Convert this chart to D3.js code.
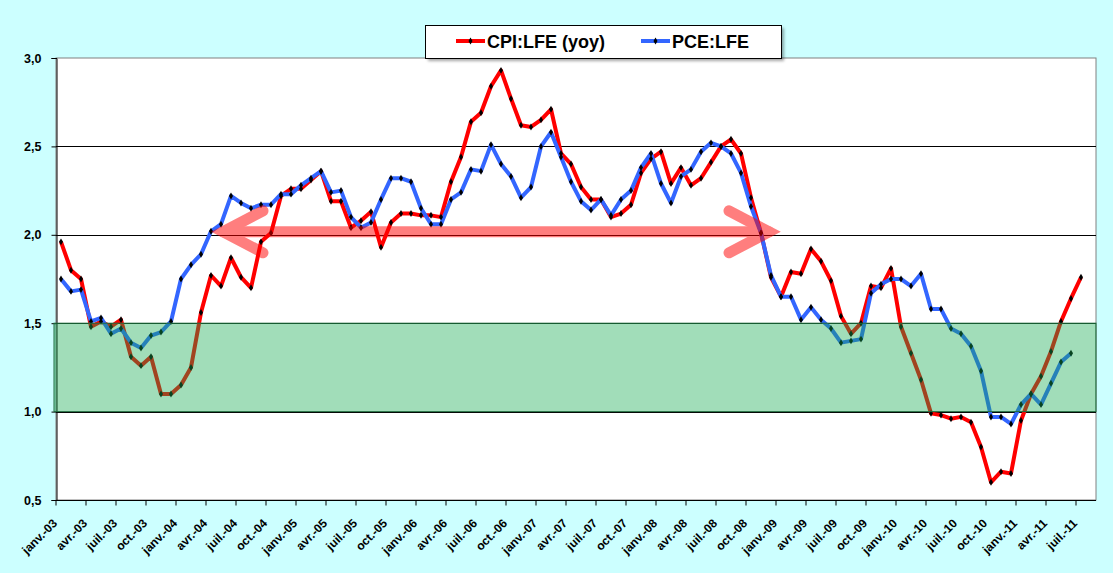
<!DOCTYPE html>
<html>
<head>
<meta charset="utf-8">
<script src="https://cdn.jsdelivr.net/npm/d3@7"></script>
<style>
  body { margin: 0; background: #CCFFFF; }
  svg { display: block; font-family: Arial, "Liberation Sans", sans-serif; }
</style>
</head>
<body>
<div id="chart"></div>
<script>
//french month abbreviations, the axis only shows every third one
var monthNames = ['janv.', 'févr.', 'mars', 'avr.', 'mai', 'juin', 'juil.', 'août', 'sept.', 'oct.', 'nov.', 'déc.'];
var years = ['03', '04', '05', '06', '07', '08', '09', '10', '11'];
var nMonths = 104; // janv.-03 .. août-11 (last slot stays empty)

//core CPI, year over year
var cpi = [
  1.96, 1.80, 1.75, 1.48, 1.51, 1.48, 1.52, 1.31, 1.26, 1.31, 1.10, 1.10,
  1.15, 1.25, 1.56, 1.77, 1.71, 1.87, 1.76, 1.70, 1.96, 2.01, 2.22, 2.26,
  2.26, 2.31, 2.36, 2.19, 2.19, 2.04, 2.08, 2.13, 1.93, 2.07, 2.12, 2.12,
  2.11, 2.11, 2.10, 2.30, 2.44, 2.64, 2.69, 2.84, 2.93, 2.77, 2.62, 2.61,
  2.65, 2.71, 2.46, 2.40, 2.27, 2.20, 2.20, 2.10, 2.12, 2.17, 2.35, 2.43,
  2.47, 2.29, 2.38, 2.28, 2.32, 2.41, 2.50, 2.54, 2.46, 2.21, 2.01, 1.76,
  1.65, 1.79, 1.78, 1.92, 1.85, 1.74, 1.54, 1.44, 1.50, 1.71, 1.70, 1.81,
  1.48, 1.33, 1.18, 0.99, 0.98, 0.96, 0.97, 0.94, 0.80, 0.60, 0.66, 0.65,
  0.95, 1.10, 1.20, 1.34, 1.51, 1.64, 1.76
];

//core PCE deflator
var pce = [
  1.75, 1.68, 1.69, 1.51, 1.53, 1.44, 1.47, 1.39, 1.36, 1.43, 1.45, 1.51,
  1.75, 1.83, 1.89, 2.02, 2.06, 2.22, 2.18, 2.15, 2.17, 2.17, 2.23, 2.23,
  2.28, 2.32, 2.36, 2.24, 2.25, 2.10, 2.04, 2.07, 2.20, 2.32, 2.32, 2.30,
  2.15, 2.06, 2.06, 2.20, 2.24, 2.37, 2.36, 2.51, 2.40, 2.33, 2.21, 2.27,
  2.50, 2.58, 2.44, 2.30, 2.19, 2.14, 2.20, 2.11, 2.20, 2.25, 2.38, 2.46,
  2.29, 2.18, 2.33, 2.37, 2.47, 2.52, 2.50, 2.46, 2.35, 2.16, 2.01, 1.77,
  1.65, 1.65, 1.52, 1.59, 1.52, 1.47, 1.39, 1.40, 1.41, 1.67, 1.72, 1.75,
  1.75, 1.71, 1.78, 1.58, 1.58, 1.47, 1.44, 1.37, 1.23, 0.97, 0.97, 0.93,
  1.04, 1.10, 1.04, 1.16, 1.28, 1.33
];

var yTicks = [0.5, 1.0, 1.5, 2.0, 2.5, 3.0];
var band = [1.0, 1.5];               // green comfort zone
var arrowEnds = ['avr.-04', 'janv.-09'];
var arrowLevel = 2.017;

var series = [
  { name: 'CPI:LFE (yoy)', values: cpi, color: '#FF0000' },
  { name: 'PCE:LFE', values: pce, color: '#3366FF' }
];

var categories = [];
years.forEach(function (yr) {
  monthNames.forEach(function (m) {
    if (categories.length < nMonths) categories.push(m + '-' + yr);
  });
});
var tickCats = categories.filter(function (d, i) { return i % 3 === 0 && i < 103; });

var width = 1113;
var height = 573;
var margin = { top: 58, bottom: 73, left: 56, right: 17 };

var svg = d3.select('#chart')
  .append('svg')
  .attr('width', width)
  .attr('height', height);

svg.append('rect')
  .attr('width', width)
  .attr('height', height)
  .attr('fill', '#CCFFFF');

var x = d3.scaleBand()
  .domain(categories)
  .range([margin.left, width - margin.right]);

var y = d3.scaleLinear()
  .domain([0.5, 3.0])
  .range([height - margin.bottom, margin.top]);

var cx = function (i) { return x(categories[i]) + x.bandwidth() / 2; };

//plot area
svg.append('rect')
  .attr('x', margin.left)
  .attr('y', margin.top)
  .attr('width', width - margin.left - margin.right)
  .attr('height', height - margin.top - margin.bottom)
  .attr('fill', '#FFFFFF')
  .attr('stroke', '#808080')
  .attr('stroke-width', 1);

//horizontal grid
svg.append('g')
  .selectAll('line')
  .data(yTicks.filter(function (d) { return d > 0.5 && d < 3.0; }))
  .join('line')
  .attr('x1', margin.left)
  .attr('x2', width - margin.right)
  .attr('y1', function (d) { return Math.round(y(d)) + 0.5; })
  .attr('y2', function (d) { return Math.round(y(d)) + 0.5; })
  .attr('stroke', '#000000')
  .attr('stroke-width', 1);

//axes
function yAxis(g) {
  g.attr('transform', 'translate(' + (margin.left + 0.5) + ',0)')
    .call(d3.axisLeft(y).tickValues(yTicks).tickSize(5).tickPadding(10)
      .tickFormat(function (d) { return d3.format('.1f')(d).replace('.', ','); }))
    .attr('font-size', '12.5px')
    .attr('font-weight', 'bold')
    .attr('font-family', 'Arial, "Liberation Sans", sans-serif');
  g.selectAll('text').attr('fill', '#000');
}

function xAxis(g) {
  g.attr('transform', 'translate(' + (-x.bandwidth() / 2) + ',' + (y(0.5) + 0.5) + ')')
    .call(d3.axisBottom(x).tickValues(tickCats).tickSize(5).tickFormat(''));
  g.select('.domain').remove();
}

svg.append('g').call(xAxis);
svg.append('line')
  .attr('x1', margin.left)
  .attr('x2', width - margin.right)
  .attr('y1', y(0.5) + 0.5)
  .attr('y2', y(0.5) + 0.5)
  .attr('stroke', '#000');
svg.append('g').call(yAxis);

svg.append('g')
  .attr('font-size', '12px')
  .attr('font-weight', 'bold')
  .selectAll('text')
  .data(tickCats)
  .join('text')
  .attr('text-anchor', 'end')
  .attr('transform', function (d) {
    return 'translate(' + (x(d) + 2) + ',' + (y(0.5) + 24) + ') rotate(-45)';
  })
  .text(function (d) { return d; });

//series lines + diamond markers
var line = d3.line()
  .x(function (d, i) { return cx(i); })
  .y(function (d) { return y(d); });

series.forEach(function (s) {
  svg.append('path')
    .datum(s.values)
    .attr('fill', 'none')
    .attr('stroke', s.color)
    .attr('stroke-width', 4)
    .attr('stroke-linejoin', 'round')
    .attr('d', line);
});

series.forEach(function (s) {
  svg.append('g')
    .selectAll('path')
    .data(s.values)
    .join('path')
    .attr('transform', function (d, i) { return 'translate(' + cx(i) + ',' + y(d) + ')'; })
    .attr('d', d3.symbol(d3.symbolDiamond, 14))
    .attr('fill', '#000');
});

//translucent green zone drawn over the lines
svg.append('rect')
  .attr('x', margin.left - 2)
  .attr('y', y(band[1]))
  .attr('width', width - margin.right - margin.left + 2)
  .attr('height', y(band[0]) - y(band[1]))
  .attr('fill', 'rgb(20,170,80)')
  .attr('fill-opacity', 0.4)
  .attr('stroke', '#1E6B3C')
  .attr('stroke-width', 1);

//pink double arrow
var ax1 = cx(categories.indexOf(arrowEnds[0])) + 12;
var ax2 = cx(categories.indexOf(arrowEnds[1])) - 12;
var ay = y(arrowLevel);
var arrow = svg.append('g')
  .attr('opacity', 0.5)
  .attr('fill', 'none')
  .attr('stroke', '#FF0000')
  .attr('stroke-width', 11)
  .attr('stroke-linecap', 'round')
  .attr('stroke-linejoin', 'miter');
arrow.append('path').attr('d', 'M' + ax1 + ',' + ay + 'L' + ax2 + ',' + ay);
arrow.append('path').attr('d', 'M' + (ax1 + 40) + ',' + (ay - 21) + 'L' + ax1 + ',' + ay + 'L' + (ax1 + 40) + ',' + (ay + 21));
arrow.append('path').attr('d', 'M' + (ax2 - 40) + ',' + (ay - 21) + 'L' + ax2 + ',' + ay + 'L' + (ax2 - 40) + ',' + (ay + 21));

//legend with a soft shadow
var defs = svg.append('defs');
defs.append('filter').attr('id', 'blur')
  .append('feGaussianBlur').attr('stdDeviation', 1.5);

var legend = svg.append('g').attr('transform', 'translate(425,25)');
legend.append('rect')
  .attr('x', 3).attr('y', 3)
  .attr('width', 356).attr('height', 33)
  .attr('fill', '#000').attr('opacity', 0.35)
  .attr('filter', 'url(#blur)');
legend.append('rect')
  .attr('x', 0.5).attr('y', 0.5)
  .attr('width', 356).attr('height', 33)
  .attr('fill', '#FFFFFF').attr('stroke', '#000');

var legendX = [31, 216];
series.forEach(function (s, i) {
  var g = legend.append('g').attr('transform', 'translate(' + legendX[i] + ',16)');
  g.append('line')
    .attr('x1', 0).attr('x2', 29)
    .attr('stroke', s.color).attr('stroke-width', 4);
  g.append('path')
    .attr('transform', 'translate(14.5,0)')
    .attr('d', d3.symbol(d3.symbolDiamond, 14))
    .attr('fill', '#000');
  g.append('text')
    .attr('x', 31).attr('y', 7)
    .attr('font-size', '18px')
    .attr('font-weight', 'bold')
    .text(s.name);
});

svg.node();
</script>
</body>
</html>
